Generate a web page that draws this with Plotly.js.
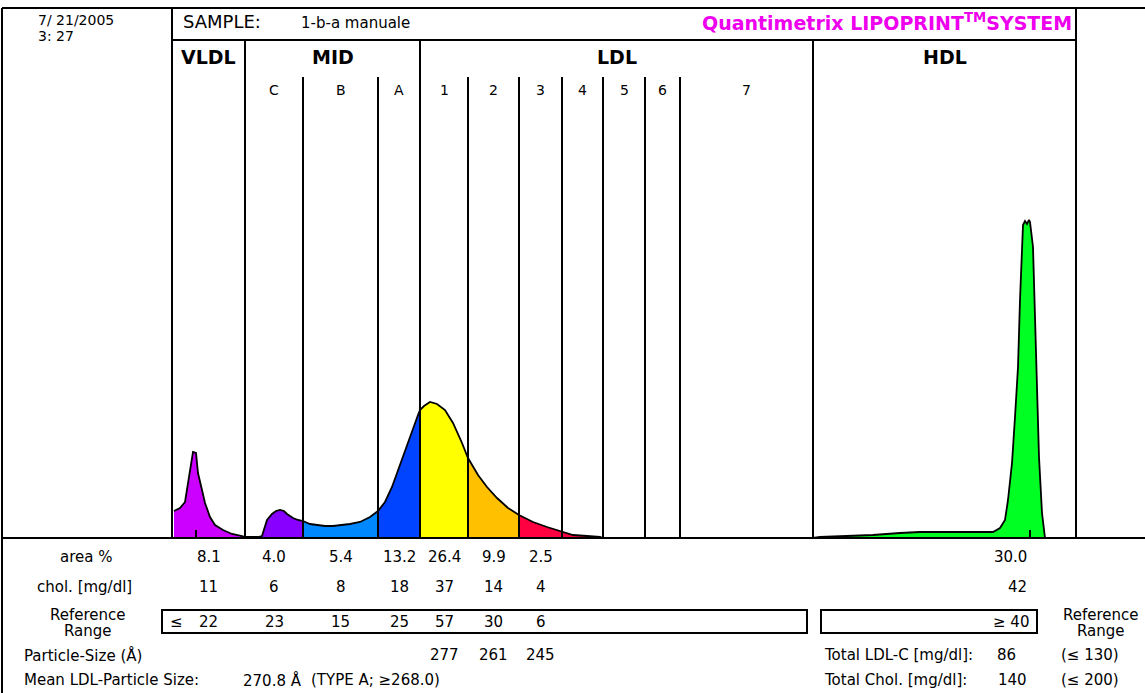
<!DOCTYPE html>
<html><head><meta charset="utf-8">
<script src="https://cdn.plot.ly/plotly-3.0.1.min.js"></script>
<style>html,body{margin:0;padding:0;background:#fff}#chart{width:1145px;height:693px}</style>
</head><body><div id="chart"></div>
<script>
// ---- data ----
// fraction boundaries along the migration axis (scan units)
const boundaries = [0, 73, 131, 206, 248, 296, 347, 390, 431, 473, 508, 641, 904];
const fractionNames = ["VLDL", "MID C", "MID B", "MID A", "LDL 1", "LDL 2", "LDL 3", "LDL 4", "LDL 5", "LDL 6", "LDL 7", "HDL"];
const subLabels = ["", "C", "B", "A", "1", "2", "3", "4", "5", "6", "7", ""];
const groupLabels = ["VLDL", "MID", "LDL", "HDL"];
const groupBounds = [[0, 73], [73, 248], [248, 641], [641, 904]];
const fractionColors = ["#CC00FF", "#8800FF", "#0088FF", "#0044FF", "#FFFF00", "#FFC000", "#FF0040", "#FF0040", "#FF0040", "#FF0040", "#FF0040", "#00FF22"];

// densitometric scan (x = migration, y = absorbance, arbitrary units)
const scanX = [2, 8, 13, 16, 18, 20, 21, 24, 26, 30, 33, 38, 43, 51, 60, 70, 73,
  78, 86, 90,
  93, 95, 100, 104, 108, 112, 115, 121, 126, 131,
  138, 145, 153, 161, 170, 178, 188, 198, 206,
  213, 220, 226, 233, 240, 246, 248,
  252, 258, 265, 273, 281, 290, 296,
  306, 315, 325, 336, 347,
  361, 375, 390,
  401, 415, 428, 431,
  473, 508, 580, 641,
  648, 678, 701, 728, 748, 773, 795, 821, 828, 833, 836, 840, 843, 846, 848, 850, 851, 853, 855, 857, 858, 861, 863, 865, 867, 870, 873];
const scanY = [27, 30, 36, 55, 68, 80, 86, 85, 65, 48, 35, 21, 13, 8, 4, 2, 1,
  1, 1, 2,
  12, 18, 24, 27, 28, 27, 24, 20, 18, 17,
  14, 13, 12, 12, 13, 14, 16, 21, 27,
  36, 51, 68, 88, 108, 123, 128,
  132, 136, 134, 128, 115, 95, 80,
  63, 51, 40, 30, 23,
  16, 11, 6,
  3, 2, 1, 0,
  0, 0, 0, 0,
  1, 2, 3, 5, 6, 6, 6, 6, 10, 18, 38, 75, 121, 171, 238, 281, 313, 317, 314, 318, 316, 291, 228, 165, 81, 25, 0];
// peak position markers
const peakMarks = [24, 858];

// results table
const areaPct = ["8.1", "4.0", "5.4", "13.2", "26.4", "9.9", "2.5"];
const cholMg = ["11", "6", "8", "18", "37", "14", "4"];
const refRange = ["22", "23", "15", "25", "57", "30", "6"];
const particleSize = ["", "", "", "", "277", "261", "245"];
const hdlArea = "30.0", hdlChol = "42", hdlRef = "≥ 40";
const totalLDLC = "86", totalLDLCRef = "(≤ 130)";
const totalChol = "140", totalCholRef = "(≤ 200)";
const meanLDLSize = "270.8 Å", meanLDLType = "(TYPE A; ≥268.0)";

// ---- layout helpers (page geometry) ----
const L = 172, R = 1076, T = 8, B = 538;
const pX = x => (x - L) / (R - L);
const pY = y => (B - y) / (B - T);
const FONT = "DejaVu Sans, Verdana, sans-serif";

// ---- traces ----
const traces = [];
for (let i = 0; i < fractionNames.length; i++) {
  const a = boundaries[i], b = boundaries[i + 1];
  const xs = [], ys = [];
  scanX.forEach((x, k) => { if (x >= a && x <= b) { xs.push(x); ys.push(scanY[k]); } });
  if (xs.length < 2) continue;
  traces.push({x: xs, y: ys, type: "scatter", mode: "lines", fill: "tozeroy",
    fillcolor: fractionColors[i], line: {width: 0, color: fractionColors[i]}, name: fractionNames[i], hoverinfo: "skip"});
}
traces.push({x: scanX, y: scanY, type: "scatter", mode: "lines", line: {color: "#000", width: 1.8}, name: "scan", hoverinfo: "skip"});

// ---- shapes ----
const shapes = [];
const ln = (x0, y0, x1, y1, xref, w) => shapes.push({type: "line", xref: xref || "paper", yref: "paper", x0, y0, x1, y1, line: {color: "#000", width: w || 2}});
// frame
ln(pX(2), pY(T), pX(1145), pY(T));
ln(pX(2), pY(T), pX(2), pY(693));
ln(pX(2), 0, pX(1145), 0);
ln(0, pY(40), 1, pY(40));
ln(0, 0, 0, 1);
ln(1, 0, 1, 1);
// group dividers
[73, 248, 641].forEach(x => ln(x, 0, x, pY(40), "x", 2));
// subfraction dividers
[131, 206, 296, 347, 390, 431, 473, 508].forEach(x => ln(x, 0, x, pY(77), "x", 2));
// peak markers
peakMarks.forEach(x => shapes.push({type: "line", xref: "x", yref: "y", x0: x, x1: x, y0: 0, y1: 8, line: {color: "#000", width: 2}}));
// reference range boxes
shapes.push({type: "rect", xref: "paper", yref: "paper", x0: pX(162), x1: pX(807), y0: pY(633), y1: pY(610), line: {color: "#000", width: 2}});
shapes.push({type: "rect", xref: "paper", yref: "paper", x0: pX(821), x1: pX(1037), y0: pY(633), y1: pY(610), line: {color: "#000", width: 2}});

// ---- annotations ----
const ann = [];
const txt = (text, x, y, opt) => {
  opt = opt || {};
  ann.push({text, x, y, xref: opt.xref || "paper", yref: "paper", showarrow: false,
    xanchor: opt.xa || "center", yanchor: "middle", align: opt.align || "center",
    font: {family: FONT, size: opt.size || 15, color: opt.color || "#000"}});
};
// header
txt("7/ 21/2005", pX(36), pY(20), {xa: "left", size: 14});
txt("3: 27", pX(36), pY(36), {xa: "left", size: 14});
txt("SAMPLE:", pX(181), pY(22), {xa: "left", size: 18});
txt("1-b-a manuale", pX(299), pY(23), {xa: "left", size: 15});
txt("<b>Quantimetrix LIPOPRINT<sup>TM</sup>SYSTEM</b>", pX(1074), pY(22), {xa: "right", size: 19, color: "#EE00EE"});
groupLabels.forEach((g, i) => txt("<b>" + g + "</b>", (groupBounds[i][0] + groupBounds[i][1]) / 2, pY(57), {xref: "x", size: 19}));
subLabels.forEach((s, i) => { if (s) txt(s, (boundaries[i] + boundaries[i + 1]) / 2, pY(90), {xref: "x", size: 14}); });

// table
txt("area %", pX(86), pY(557));
txt("chol. [mg/dl]", pX(84), pY(587));
txt("Reference", pX(88), pY(615));
txt("Range", pX(88), pY(631));
txt("Particle-Size (Å)", pX(22), pY(655), {xa: "left"});
txt("Mean LDL-Particle Size:", pX(22), pY(680), {xa: "left"});
txt(meanLDLSize, pX(241), pY(680), {xa: "left"});
txt(meanLDLType, pX(309), pY(680), {xa: "left"});
const colX = i => (boundaries[i] + boundaries[i + 1]) / 2;
areaPct.forEach((v, i) => txt(v, colX(i), pY(557), {xref: "x"}));
cholMg.forEach((v, i) => txt(v, colX(i), pY(587), {xref: "x"}));
refRange.forEach((v, i) => txt(v, colX(i), pY(622), {xref: "x"}));
particleSize.forEach((v, i) => { if (v) txt(v, colX(i), pY(655), {xref: "x"}); });
txt("≤", pX(176), pY(622));
txt(hdlArea, pX(1029), pY(557), {xa: "right"});
txt(hdlChol, pX(1029), pY(587), {xa: "right"});
txt(hdlRef, pX(1031), pY(622), {xa: "right"});
txt("Reference", pX(1101), pY(615));
txt("Range", pX(1101), pY(631));
txt("Total LDL-C [mg/dl]:", pX(822), pY(655), {xa: "left"});
txt(totalLDLC, pX(1018), pY(655), {xa: "right"});
txt("Total Chol. [mg/dl]:", pX(822), pY(680), {xa: "left"});
txt(totalChol, pX(1029), pY(680), {xa: "right"});
txt(totalLDLCRef, pX(1090), pY(655));
txt(totalCholRef, pX(1090), pY(680));

const layout = {
  width: 1145, height: 693,
  margin: {l: L, r: 1145 - R, t: T, b: 693 - B, pad: 0},
  paper_bgcolor: "#fff", plot_bgcolor: "#fff", showlegend: false,
  xaxis: {range: [0, 904], showgrid: false, zeroline: false, showticklabels: false, showline: false, ticks: "", fixedrange: true},
  yaxis: {range: [0, 530], showgrid: false, zeroline: false, showticklabels: false, showline: false, ticks: "", fixedrange: true},
  shapes, annotations: ann
};
Plotly.newPlot("chart", traces, layout, {staticPlot: true, displayModeBar: false});
</script></body></html>
